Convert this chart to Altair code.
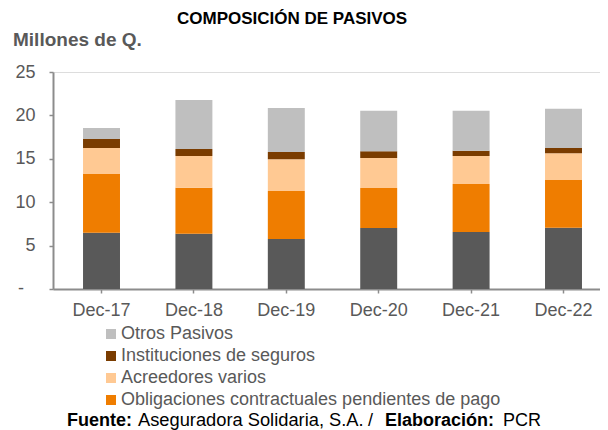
import altair as alt
import pandas as pd

categories = ["Dec-17", "Dec-18", "Dec-19", "Dec-20", "Dec-21", "Dec-22"]
series_names = [
    "Reservas técnicas",
    "Obligaciones contractuales pendientes de pago",
    "Acreedores varios",
    "Instituciones de seguros",
    "Otros Pasivos",
]
reservas = [6.49, 6.37, 5.76, 7.03, 6.57, 7.06]
obligaciones = [6.76, 5.30, 5.53, 4.61, 5.53, 5.50]
acreedores = [2.99, 3.65, 3.65, 3.45, 3.22, 3.07]
instituciones = [1.04, 0.81, 0.84, 0.77, 0.61, 0.61]
otros = [1.27, 5.64, 5.07, 4.68, 4.61, 4.53]
colors = ["#595959", "#EF7D00", "#FFC993", "#7A3C00", "#BFBFBF"]
legend_entries = [
    "Otros Pasivos",
    "Instituciones de seguros",
    "Acreedores varios",
    "Obligaciones contractuales pendientes de pago",
]
zero_label = ["-"]

rows = []
for si, (name, vals) in enumerate(zip(series_names, [reservas, obligaciones, acreedores, instituciones, otros])):
    for c, v in zip(categories, vals):
        rows.append({"cat": c, "serie": name, "valor": v, "orden": si})
df = pd.DataFrame(rows)

FONT = "Liberation Sans"
AX = "#8C8C8C"
LAB = "#595959"

bars = alt.Chart(df).mark_bar().encode(
    x=alt.X("cat:N", sort=categories, title=None,
            scale=alt.Scale(paddingInner=0.6, paddingOuter=0.26, align=0.625),
            axis=alt.Axis(labelAngle=0, labelFont=FONT, labelFontSize=18, labelColor=LAB,
                          labelPadding=8, domainColor=AX, domainWidth=2, tickColor=AX,
                          tickSize=4, tickWidth=1.5, grid=False)),
    y=alt.Y("valor:Q", stack="zero", title=None,
            scale=alt.Scale(domain=[0, 25], nice=False),
            axis=alt.Axis(values=[0, 5, 10, 15, 20, 25], grid=False, labelFont=FONT,
                          labelFontSize=18, labelColor=LAB, labelPadding=14,
                          domainColor=AX, domainWidth=2, tickColor=AX, tickSize=4, tickWidth=1.5,
                          labelExpr="datum.value == 0 ? '' : datum.label")),
    color=alt.Color("serie:N", scale=alt.Scale(domain=series_names, range=colors),
                    legend=alt.Legend(values=legend_entries, title=None, orient="none",
                                      legendX=49, legendY=253, direction="vertical",
                                      symbolType="square", symbolSize=100, symbolOpacity=1,
                                      symbolStrokeWidth=0, labelFont=FONT, labelFontSize=18,
                                      labelColor=LAB, labelOffset=1, rowPadding=4, padding=0,
                                      labelLimit=600)),
    order=alt.Order("orden:Q", sort="ascending"),
)

zero = alt.Chart(pd.DataFrame({"v": [0], "t": zero_label})).mark_text(
    font=FONT, fontSize=18, color=LAB, align="right", baseline="middle"
).encode(y=alt.Y("v:Q"), x=alt.value(-29), text="t:N")

def txt(s, x, y, bold=False, color="#000000", size=18, align="left"):
    return alt.Chart(pd.DataFrame({"t": [s]})).mark_text(
        font=FONT, fontSize=size, fontWeight="bold" if bold else "normal",
        color=color, align=align, baseline="middle"
    ).encode(text="t:N", x=alt.value(x), y=alt.value(y))

title = txt("COMPOSICIÓN DE PASIVOS", 124, -53, bold=True, size=17)
unit = txt("Millones de Q.", -40, -32, bold=True, color=LAB, size=19)
f1 = txt("Fuente:", 14, 349, bold=True)
f2 = txt("Aseguradora Solidaria, S.A.", 85, 349, size=18.3)
f2b = txt("/", 315, 349)
f3 = txt("Elaboración:", 332, 349, bold=True)
f4 = txt("PCR", 450, 349)

chart = alt.layer(bars, zero, title, unit, f1, f2, f2b, f3, f4).properties(
    width=547, height=217,
    autosize=alt.AutoSizeParams(type="none"),
    padding={"left": 45, "top": 64, "right": 0, "bottom": 141},
).configure_view(stroke=None).configure(font=FONT)

chart.save("out.html", embed_options={"renderer": "svg", "actions": False})
